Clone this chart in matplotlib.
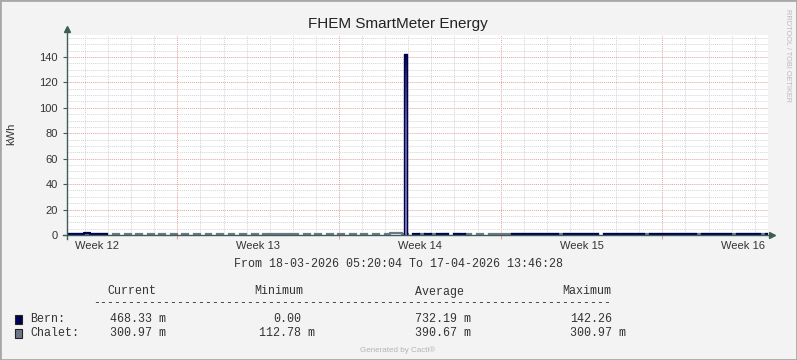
"""FHEM SmartMeter energy graph, redrawn in the rrdtool/Cacti look"""

from datetime import datetime, timedelta

import matplotlib

matplotlib.use("Agg")
import matplotlib.dates as mdates
import matplotlib.pyplot as plt
import numpy as np
from matplotlib.colors import LinearSegmentedColormap
from matplotlib.lines import Line2D
from matplotlib.patches import Rectangle
from matplotlib.ticker import MultipleLocator, NullFormatter

_ = np.nan

T_START = datetime(2026, 3, 18, 5, 20, 4)
T_END = datetime(2026, 4, 17, 13, 46, 28)
STEP_HOURS = 6

# 6-hourly readings (kWh), gaps where the meter did not report
bern_kwh = [
    0.9, 0.8, 1.0, 1.5, 0.9, 0.8, 0.7, _, _, _, _, _,
    _, _, _, _, _, _, _, _, _, _, _, _,
    _, _, _, _, _, _, _, _, _, _, _, _,
    _, _, _, _, _, _, _, _, _, _, _, _,
    _, _, _, _, _, _, _, _, _, _, _, _,
    0.6, _, 0.5, _, 0.7, 0.6, _, 0.5, 0.6, _, _, _,
    _, _, _, _, _, 0.8, 0.9, 0.8, 0.7, 0.9, 0.8, 1.0,
    0.8, _, 0.8, 0.9, 0.7, 0.8, 0.9, 0.8, _, 0.8, 0.9, 0.8,
    0.7, 0.9, 0.8, 0.8, _, 0.9, 0.8, 0.8, 0.9, 0.7, 0.8, 0.9,
    0.8, _, 0.8, 0.9, 0.8, 0.8, 0.7, _, 0.8, 0.9, 0.8, 0.8,
    _, 0.8,
]
chalet_kwh = [
    0.4, 0.4, 0.4, 0.4, 0.4, 0.4, 0.4, _, 0.4, _, 0.5, _,
    0.4, _, 0.4, _, 0.5, _, 0.4, _, 0.4, _, 0.5, _,
    0.4, _, 0.4, _, 0.5, _, 0.4, _, 0.4, _, 0.5, 0.5,
    0.6, 0.5, 0.5, 0.6, _, 0.4, _, 0.5, _, 0.4, _, 0.4,
    _, 0.5, _, 0.4, _, 0.4, _, 0.5, 1.6, 1.5, 0.4, _,
    _, 0.5, _, 0.6, _, 0.5, _, 0.6, _, 0.5, _, 0.5,
    _, 0.6, 0.7, 0.6, 0.6, 0.4, 0.4, 0.4, 0.4, 0.4, 0.4, 0.4,
    0.4, 0.4, 0.4, 0.4, 0.4, 0.4, 0.4, 0.4, _, 0.4, 0.4, 0.4,
    0.4, 0.4, 0.4, 0.4, 0.4, 0.4, 0.4, 0.4, 0.4, 0.4, 0.4, 0.4,
    0.4, 0.4, 0.4, 0.4, 0.4, 0.4, 0.4, 0.4, 0.4, 0.4, 0.4, 0.4,
    0.4, 0.4,
]
# the one big reading on Bern
bern_peak_start_h = 350.0
bern_peak_len_h = 3.5
bern_peak_kwh = 142.26

week_labels = ["Week 12", "Week 13", "Week 14", "Week 15", "Week 16"]
week_mid = [
    datetime(2026, 3, 19, 12),
    datetime(2026, 3, 26, 12),
    datetime(2026, 4, 2, 12),
    datetime(2026, 4, 9, 12),
    datetime(2026, 4, 16, 12),
]

legend_cols = ["Current", "Minimum", "Average", "Maximum"]
legend_names = ["Bern:", "Chalet:"]
bern_stats = ["468.33 m", "0.00", "732.19 m", "142.26"]
chalet_stats = ["300.97 m", "112.78 m", "390.67 m", "300.97 m"]

BERN_COLOR = "#000050"
CHALET_COLOR = "#6E7786"
AXIS_COLOR = "#3D5E57"
BG = "#F3F3F3"

W, H = 797, 360
plt.rcParams["font.family"] = ["Liberation Sans", "DejaVu Sans"]


def fx(px):
    return px / W


def fy(py):
    return 1 - py / H


fig = plt.figure(figsize=(W / 100, H / 100), dpi=100, facecolor=BG)
ax = fig.add_axes([fx(67), fy(235), (768 - 67) / W, 200 / H])
ax.set_facecolor("white")

# series on a 6h grid, drawn as steps like rrdtool does
times = [T_START + timedelta(hours=STEP_HOURS * i) for i in range(len(bern_kwh) + 1)]
bern = np.array(bern_kwh + [bern_kwh[-1]])
chalet = np.array(chalet_kwh + [chalet_kwh[-1]])
ax.step(times, chalet, where="post", color=CHALET_COLOR, lw=1.6, zorder=3)
ax.step(times, bern, where="post", color=BERN_COLOR, lw=1.6, zorder=4)

# peak: gradient area with dark outline
p0 = mdates.date2num(T_START + timedelta(hours=bern_peak_start_h))
p1 = mdates.date2num(T_START + timedelta(hours=bern_peak_start_h + bern_peak_len_h))
grad = LinearSegmentedColormap.from_list(
    "g", [(0, "#9494BE"), (0.6, "#6E6EA0"), (0.88, "#2E2E6C"), (1, BERN_COLOR)])
im = ax.imshow(
    np.linspace(0, 1, 256).reshape(-1, 1),
    extent=[p0, p1, 0, bern_peak_kwh],
    origin="lower",
    aspect="auto",
    cmap=grad,
    zorder=4,
)
clip = Rectangle((p0, 0), p1 - p0, bern_peak_kwh, fc="none", ec="none")
ax.add_patch(clip)
im.set_clip_path(clip)
ax.plot([p0, p0, p1, p1], [0, bern_peak_kwh, bern_peak_kwh, 0],
        color=BERN_COLOR, lw=1.0, zorder=5)

ax.set_xlim(mdates.date2num(T_START), mdates.date2num(T_END))
ax.set_ylim(0, 157.3)

# grid: days / weeks, 5 / 20 kWh
ax.xaxis.set_major_locator(mdates.WeekdayLocator(byweekday=mdates.MO))
ax.xaxis.set_minor_locator(mdates.DayLocator())
ax.xaxis.set_major_formatter(NullFormatter())
ax.yaxis.set_major_locator(MultipleLocator(20))
ax.yaxis.set_minor_locator(MultipleLocator(5))
ax.grid(which="minor", color="#D4D4D4", ls=(0, (1, 1)), lw=0.7)
ax.grid(which="major", color="#E6A0A0", ls=(0, (1, 1)), lw=0.7)
ax.set_axisbelow(True)
ax.tick_params(axis="y", which="major", length=3, width=0.8, color=AXIS_COLOR,
               pad=3.6, labelsize=8, labelcolor="#333333")
ax.tick_params(axis="x", which="major", length=3, width=0.8, color="#E6A0A0")
ax.tick_params(which="minor", length=0)
for s in ax.spines.values():
    s.set_visible(False)

for lab, d in zip(week_labels, week_mid):
    ax.text(mdates.date2num(d), -0.07, lab, transform=ax.get_xaxis_transform(),
            ha="center", va="baseline", fontsize=8, color="#333333")

# axes with arrows
ax.add_line(Line2D([0, 0], [-0.02, 1.02], transform=ax.transAxes, color=AXIS_COLOR,
                   lw=1, clip_on=False, zorder=6))
ax.add_line(Line2D([-0.005, 1.004], [0, 0], transform=ax.transAxes, color=AXIS_COLOR,
                   lw=1, clip_on=False, zorder=6))
ax.plot([0], [1.03], marker="^", ms=4.5, color=AXIS_COLOR, transform=ax.transAxes,
        clip_on=False, zorder=6)
ax.plot([1.006], [0], marker=">", ms=4.5, color=AXIS_COLOR, transform=ax.transAxes,
        clip_on=False, zorder=6)

fig.text(fx(397.5), fy(28.3), "FHEM SmartMeter Energy", ha="center", va="baseline",
         fontsize=11, color="#222222")
fig.text(fx(11.5), fy(134), "kWh", rotation=90, ha="center", va="center",
         fontsize=8, color="#333333")
fig.text(fx(787), fy(56), "RRDTOOL / TOBI OETIKER", rotation=270, ha="center",
         va="center", fontsize=5.3, color="#BBBBBB")

mono = dict(family="Liberation Mono", fontsize=8.4, color="#333333", va="baseline")
fig.text(fx(398), fy(267), "From 18-03-2026 05:20:04 To 17-04-2026 13:46:28",
         ha="center", **mono)
for name, x in zip(legend_cols, [107, 254, 415, 562]):
    fig.text(fx(x), fy(294.5), name, ha="left", **mono)
fig.text(fx(93), fy(306.5), "-" * 74, ha="left", **mono)

rows = [(bern_stats, [110, 273, 415, 570], 322.5, BERN_COLOR),
        (chalet_stats, [110, 259, 415, 570], 336.5, CHALET_COLOR)]
for name, (stats, xs, base, col) in zip(legend_names, rows):
    fig.patches.append(Rectangle((fx(15), fy(base + 1.5)), 7 / W, 9 / H, transform=fig.transFigure,
                                 facecolor=col, edgecolor="#222222", lw=0.8))
    fig.text(fx(30), fy(base), name, ha="left", **mono)
    for val, x in zip(stats, xs):
        fig.text(fx(x), fy(base), val, ha="left", **mono)

fig.text(fx(398), fy(352.5), "Generated by Cacti\u00ae", ha="center", va="baseline",
         fontsize=5.8, color="#B4B4B4")

fig.patches.append(Rectangle((0, 0), 1, 1, transform=fig.transFigure, fill=False,
                             edgecolor="#A8A8A8", lw=2))

fig.savefig("out.png", dpi=100, facecolor=BG)
